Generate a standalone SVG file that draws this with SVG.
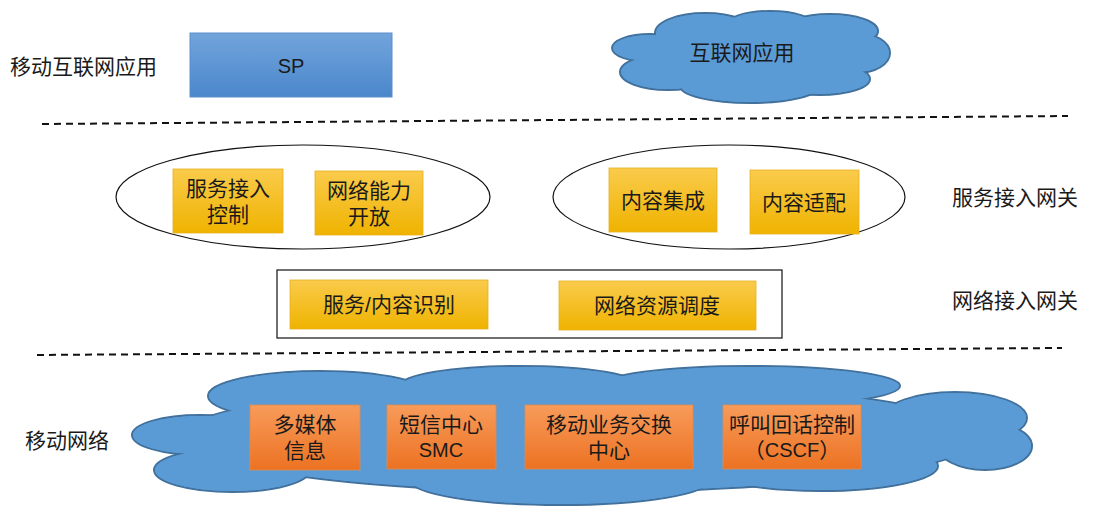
<svg xmlns="http://www.w3.org/2000/svg" width="1095" height="519" viewBox="0 0 1095 519">
<defs>
<linearGradient id="gBlue" x1="0" y1="0" x2="0" y2="1"><stop offset="0" stop-color="#72A4DC"/><stop offset="1" stop-color="#4A87CB"/></linearGradient>
<linearGradient id="gYel" x1="0" y1="0" x2="0" y2="1"><stop offset="0" stop-color="#FACB4C"/><stop offset="1" stop-color="#EFB300"/></linearGradient>
<linearGradient id="gOr" x1="0" y1="0" x2="0" y2="1"><stop offset="0" stop-color="#F89B5A"/><stop offset="1" stop-color="#EC7222"/></linearGradient>
</defs>
<style>
text{font-family:"Liberation Sans","Noto Sans CJK SC",sans-serif;font-size:21px;fill:#1a1a1a;text-anchor:middle;dominant-baseline:central}
.lbl{text-anchor:start}
.cl-o ellipse{fill:#5B9BD5;stroke:#41719C;stroke-width:2}
.cl-i ellipse{fill:#5B9BD5;stroke:none}
.yel{fill:url(#gYel);stroke:#E8B020;stroke-width:0.8}
.or{fill:url(#gOr);stroke:#E38A4A;stroke-width:0.8}
.dash{fill:none;stroke:#111;stroke-width:2;stroke-dasharray:7 5}
.ring{fill:none;stroke:#111;stroke-width:1.2}
.lat{font-size:20px}
</style>

<g id="connectors">
<line class="dash" x1="42" y1="124" x2="1068" y2="116"/>
<line class="dash" x1="37" y1="355" x2="1062" y2="348"/>
</g>

<g id="label-mobile-internet"><text class="lbl" x="10" y="66">移动互联网应用</text></g>
<g id="label-service-gw"><text class="lbl" x="952" y="197">服务接入网关</text></g>
<g id="label-net-gw"><text class="lbl" x="952" y="300">网络接入网关</text></g>
<g id="label-mobile-net"><text class="lbl" x="25" y="440">移动网络</text></g>

<g id="sp">
<rect x="190" y="33" width="202" height="64" fill="url(#gBlue)" stroke="#5B8FCC" stroke-width="1"/>
<text class="lat" x="291" y="66">SP</text>
</g>

<g id="internet-cloud">
<g class="cl-o">
<ellipse cx="750" cy="58" rx="110" ry="35"/>
<ellipse cx="650" cy="48" rx="38" ry="14"/>
<ellipse cx="668" cy="72" rx="48" ry="18"/>
<ellipse cx="705" cy="33" rx="50" ry="20"/>
<ellipse cx="770" cy="26" rx="45" ry="15"/>
<ellipse cx="830" cy="31" rx="48" ry="17"/>
<ellipse cx="857" cy="53" rx="33" ry="20"/>
<ellipse cx="750" cy="86" rx="70" ry="17"/>
<ellipse cx="820" cy="79" rx="50" ry="16"/>
</g>
<g class="cl-i">
<ellipse cx="750" cy="58" rx="109" ry="34"/>
<ellipse cx="650" cy="48" rx="37" ry="13"/>
<ellipse cx="668" cy="72" rx="47" ry="17"/>
<ellipse cx="705" cy="33" rx="49" ry="19"/>
<ellipse cx="770" cy="26" rx="44" ry="14"/>
<ellipse cx="830" cy="31" rx="47" ry="16"/>
<ellipse cx="857" cy="53" rx="32" ry="19"/>
<ellipse cx="750" cy="86" rx="69" ry="16"/>
<ellipse cx="820" cy="79" rx="49" ry="15"/>
</g>
<text x="742" y="52">互联网应用</text>
</g>

<g id="service-group-1">
<ellipse class="ring" cx="303" cy="197" rx="187" ry="52"/>
</g>
<g id="service-group-2">
<ellipse class="ring" cx="729" cy="197" rx="176" ry="52"/>
</g>

<g id="svc-access">
<rect class="yel" x="173" y="169" width="110" height="64"/>
<text x="228" y="188">服务接入</text><text x="228" y="214">控制</text>
</g>
<g id="net-capability">
<rect class="yel" x="315" y="171" width="108" height="64"/>
<text x="369" y="190">网络能力</text><text x="369" y="216">开放</text>
</g>
<g id="content-integration">
<rect class="yel" x="609" y="168" width="108" height="64"/>
<text x="663" y="200">内容集成</text>
</g>
<g id="content-adapt">
<rect class="yel" x="750" y="170" width="109" height="64"/>
<text x="804" y="202">内容适配</text>
</g>

<g id="net-gw-frame">
<rect class="ring" x="277" y="270" width="505" height="68"/>
</g>
<g id="svc-content-id">
<rect class="yel" x="290" y="280" width="198" height="49"/>
<text x="389" y="304">服务/内容识别</text>
</g>
<g id="net-resource">
<rect class="yel" x="559" y="281" width="197" height="49"/>
<text x="657" y="305">网络资源调度</text>
</g>

<g id="mobile-cloud">
<g class="cl-o">
<ellipse cx="580" cy="437" rx="400" ry="55"/>
<ellipse cx="200" cy="435" rx="68" ry="20"/>
<ellipse cx="232" cy="470" rx="78" ry="22"/>
<ellipse cx="320" cy="396" rx="112" ry="25"/>
<ellipse cx="520" cy="386" rx="120" ry="20"/>
<ellipse cx="750" cy="386" rx="150" ry="20"/>
<ellipse cx="955" cy="418" rx="72" ry="26"/>
<ellipse cx="985" cy="446" rx="47" ry="24"/>
<ellipse cx="560" cy="480" rx="150" ry="25"/>
<ellipse cx="820" cy="466" rx="118" ry="25"/>
</g>
<g class="cl-i">
<ellipse cx="580" cy="437" rx="399" ry="54"/>
<ellipse cx="200" cy="435" rx="67" ry="19"/>
<ellipse cx="232" cy="470" rx="77" ry="21"/>
<ellipse cx="320" cy="396" rx="111" ry="24"/>
<ellipse cx="520" cy="386" rx="119" ry="19"/>
<ellipse cx="750" cy="386" rx="149" ry="19"/>
<ellipse cx="955" cy="418" rx="71" ry="25"/>
<ellipse cx="985" cy="446" rx="46" ry="23"/>
<ellipse cx="560" cy="480" rx="149" ry="24"/>
<ellipse cx="820" cy="466" rx="117" ry="24"/>
</g>
</g>

<g id="mms">
<rect class="or" x="250" y="405" width="110" height="65"/>
<text x="305" y="424">多媒体</text><text x="305" y="450">信息</text>
</g>
<g id="smc">
<rect class="or" x="387" y="405" width="109" height="64"/>
<text x="441" y="424">短信中心</text><text class="lat" x="441" y="450">SMC</text>
</g>
<g id="msc">
<rect class="or" x="525" y="405" width="168" height="64"/>
<text x="609" y="424">移动业务交换</text><text x="609" y="450">中心</text>
</g>
<g id="cscf">
<rect class="or" x="723" y="405" width="138" height="64"/>
<text x="792" y="424">呼叫回话控制</text><text x="792" y="450">（<tspan class="lat">CSCF</tspan>）</text>
</g>
</svg>
